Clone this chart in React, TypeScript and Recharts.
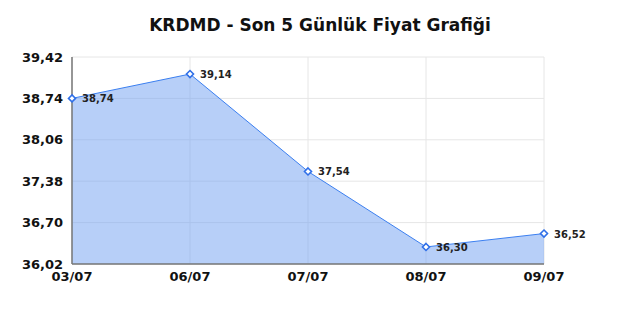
import React from "react";
import { AreaChart, Area, XAxis, YAxis, CartesianGrid, LabelList } from "recharts";

const dates = ["03/07", "06/07", "07/07", "08/07", "09/07"];
const prices = [38.74, 39.14, 37.54, 36.3, 36.52];
const yTicks = [36.02, 36.7, 37.38, 38.06, 38.74, 39.42];
const title = "KRDMD - Son 5 Günlük Fiyat Grafiği";

const data = dates.map((d, i) => ({ date: d, price: prices[i] }));
const fmt = (v: number) => v.toFixed(2).replace(".", ",");

const Diamond = (props: any) => {
  const { cx, cy } = props;
  if (cx == null || cy == null) return null;
  const r = 3.5;
  return (
    <path
      d={`M${cx},${cy - r}L${cx + r},${cy}L${cx},${cy + r}L${cx - r},${cy}Z`}
      fill="#ffffff"
      stroke="#2f6fe8"
      strokeWidth={1.6}
    />
  );
};

const PointLabel = (props: any) => {
  const { x, y, value } = props;
  return (
    <text
      x={x + 10}
      y={y + 4}
      fontFamily="DejaVu Sans"
      fontWeight="bold"
      fontSize={10}
      fill="#222"
    >
      {fmt(value)}
    </text>
  );
};

export default function App() {
  return (
    <div style={{ position: "relative", width: 624, height: 304 }}>
      <div
        style={{
          position: "absolute",
          left: 0,
          top: 7,
          width: 624,
          textAlign: "center",
          fontFamily: "DejaVu Sans",
          fontWeight: "bold",
          fontSize: 17,
          color: "#111",
        }}
      >
        {title}
      </div>
      <AreaChart
        width={624}
        height={304}
        data={data}
        margin={{ top: 49, right: 88, left: 4, bottom: 18 }}
      >
        <CartesianGrid stroke="#e6e6e6" strokeWidth={1} />
        <XAxis
          dataKey="date"
          tickLine={false}
          axisLine={{ stroke: "#777", strokeWidth: 1.5 }}
          tick={{ fontFamily: "DejaVu Sans", fontWeight: "bold", fontSize: 13, fill: "#111" }}
          tickMargin={2}
          height={30}
          interval={0}
        />
        <YAxis
          domain={[36.02, 39.42]}
          ticks={yTicks}
          tickFormatter={fmt}
          tickLine={false}
          axisLine={{ stroke: "#777", strokeWidth: 1.5 }}
          tick={{ fontFamily: "DejaVu Sans", fontWeight: "bold", fontSize: 13, fill: "#111" }}
          tickMargin={3}
          width={60}
          interval={0}
        />
        <Area
          type="linear"
          dataKey="price"
          stroke="#3b7ff0"
          strokeWidth={1}
          fill="#6f9ff2"
          fillOpacity={0.5}
          dot={<Diamond />}
          activeDot={false}
          isAnimationActive={false}
        >
          <LabelList dataKey="price" content={<PointLabel />} />
        </Area>
      </AreaChart>
    </div>
  );
}
